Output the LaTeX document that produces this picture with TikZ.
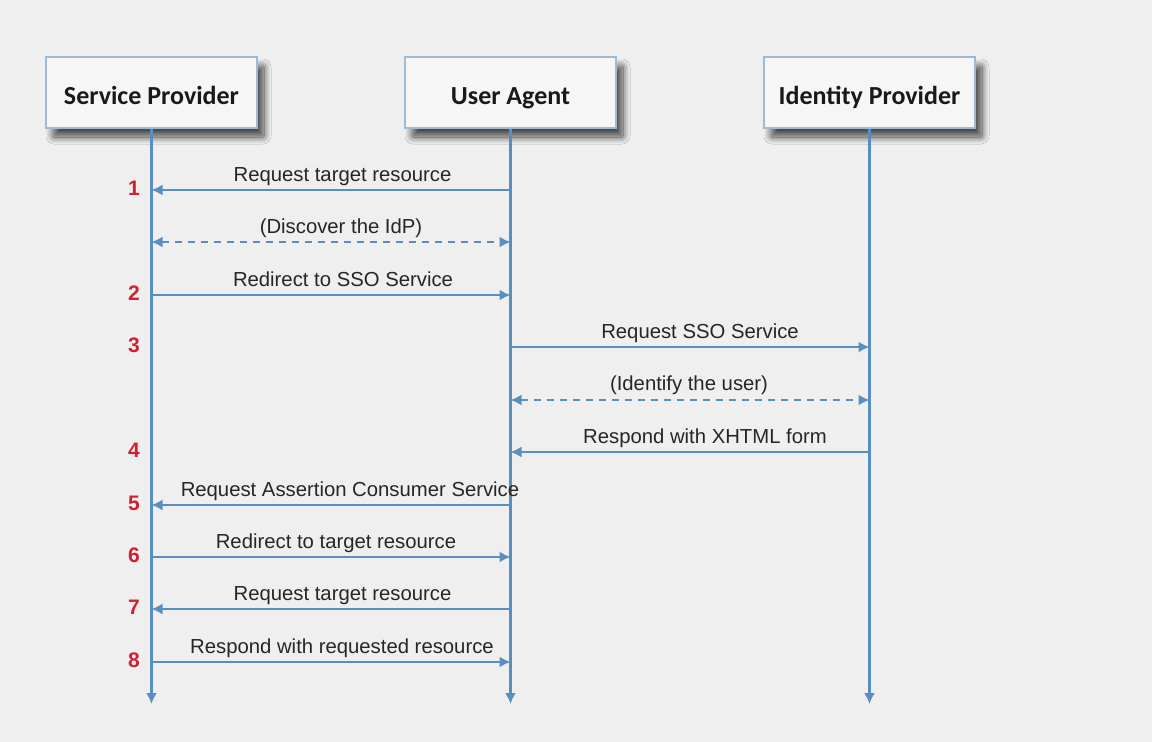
\documentclass[tikz,border=0pt]{standalone}
\usepackage{fontspec}
\setmainfont{Liberation Sans}
\newfontfamily\titlefont{Carlito}
\usetikzlibrary{arrows.meta,shadows.blur}
\definecolor{bgc}{HTML}{EFEFEF}
\definecolor{boxfill}{HTML}{F6F6F6}
\definecolor{boxline}{HTML}{9FBAD3}
\definecolor{linec}{HTML}{5B8EC0}
\definecolor{numc}{HTML}{D21F30}
\definecolor{txtc}{HTML}{262626}
\tikzset{
  actor/.style={draw=boxline, line width=1.4pt, fill=boxfill, minimum width=211pt, minimum height=71pt,
    text height=30pt, text depth=6pt,
    font=\titlefont\bfseries\fontsize{26}{30}\selectfont, text=black!90,
    blur shadow={shadow xshift=7pt, shadow yshift=-9pt, shadow opacity=70, shadow blur radius=7pt, shadow blur steps=20, shadow blur extra rounding=1pt}},
  life/.style={draw=linec, line width=2.6pt, -{Latex[length=11pt,width=11pt]}},
  msgline/.style={draw=linec, line width=2pt, -{Latex[length=11pt,width=11pt]}},
  dmsg/.style={draw=linec, line width=2pt, dash pattern=on 7pt off 6pt, {Latex[length=11pt,width=11pt]}-{Latex[length=11pt,width=11pt]}},
  lbl/.style={anchor=base, inner sep=0pt, font=\fontsize{20.3}{24}\selectfont, text=txtc},
  num/.style={inner sep=0pt, font=\bfseries\fontsize{21}{24}\selectfont, text=numc},
}
\begin{document}
\begin{tikzpicture}[x=1pt,y=-1pt]
\fill[bgc] (0,0) rectangle (1152,742);
\useasboundingbox (0,0) rectangle (1152,742);

\node[actor] (sp) at (151.5,92.5) {Service Provider};
\node[actor] (ua) at (510.5,92.5) {User Agent};
\node[actor] (idp) at (869.5,92.5) {Identity Provider};

\coordinate (spend) at (151.5,704);
\coordinate (uaend) at (510.5,704);
\coordinate (idpend) at (869.5,704);
\draw[life] (sp.south) -- (spend);
\draw[life] (ua.south) -- (uaend);
\draw[life] (idp.south) -- (idpend);

% endpoints
\foreach \n/\y in {1/190,d/242,2/295,3/347,i/400,4/452,5/505,6/557,7/609,8/662}{
  \coordinate (sp\n) at (151.5,\y);
  \coordinate (ua\n) at (510.5,\y);
  \coordinate (idp\n) at (869.5,\y);
}

% messages
\draw[msgline] (ua1) -- (sp1);
\node[lbl] (l1) at (342.5,181) {Request target resource};
\node[num] (n1) at (134,188) {1};

\draw[dmsg] (spd) -- (uad);
\node[lbl] (ld) at (341,233) {(Discover the IdP)};

\draw[msgline] (sp2) -- (ua2);
\node[lbl] (l2) at (343,286) {Redirect to SSO Service};
\node[num] (n2) at (134,293) {2};

\draw[msgline] (ua3) -- (idp3);
\node[lbl] (l3) at (700,338) {Request SSO Service};
\node[num] (n3) at (134,345) {3};

\draw[dmsg] (uai) -- (idpi);
\node[lbl] (li) at (689,390) {(Identify the user)};

\draw[msgline] (idp4) -- (ua4);
\node[lbl] (l4) at (705,443) {Respond with XHTML form};
\node[num] (n4) at (134,450) {4};

\draw[msgline] (ua5) -- (sp5);
\node[lbl] (l5) at (350,496) {Request Assertion Consumer Service};
\node[num] (n5) at (134,503) {5};

\draw[msgline] (sp6) -- (ua6);
\node[lbl] (l6) at (336,548) {Redirect to target resource};
\node[num] (n6) at (134,555) {6};

\draw[msgline] (ua7) -- (sp7);
\node[lbl] (l7) at (342.5,600) {Request target resource};
\node[num] (n7) at (134,607) {7};

\draw[msgline] (sp8) -- (ua8);
\node[lbl] (l8) at (342,653) {Respond with requested resource};
\node[num] (n8) at (134,660) {8};
\end{tikzpicture}
\end{document}
